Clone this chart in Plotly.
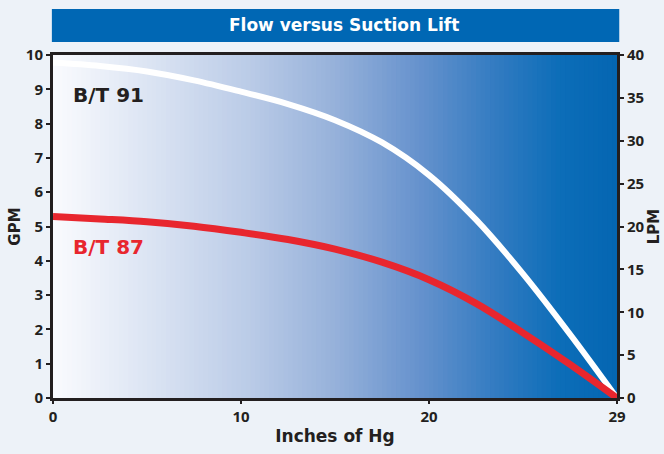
import plotly.graph_objects as go

# ---- data (x in axis units; last axis tick is labelled "29") ----
suction_x = [0, 2.5, 5, 7.5, 10, 12.5, 15, 17.5, 20, 22.5, 25, 27.5, 30]
bt91_gpm = [9.78, 9.68, 9.52, 9.26, 8.93, 8.57, 8.10, 7.45, 6.50, 5.20, 3.62, 1.86, 0.0]
bt87_gpm = [5.29, 5.22, 5.14, 5.01, 4.83, 4.62, 4.34, 3.96, 3.45, 2.76, 1.90, 0.98, 0.0]

x_tickvals = [0, 10, 20, 30]
x_ticktext = ["0", "10", "20", "29"]
gpm_ticks = list(range(0, 11))
lpm_ticks = list(range(0, 41, 5))

title_text = "Flow versus Suction Lift"
x_title = "Inches of Hg"
y_title = "GPM"
y2_title = "LPM"
label91 = "B/T 91"
label87 = "B/T 87"

FONT = "Open Sans"
HEAVY = "DejaVu Sans"
INK = "#231f20"
RED = "#e8262e"
BLUE = "#0067b4"

fig = go.Figure()

fig.add_trace(go.Scatter(x=suction_x, y=bt91_gpm, mode="lines",
                         line=dict(color="white", width=6, shape="spline", smoothing=1.0),
                         hoverinfo="skip", showlegend=False))
fig.add_trace(go.Scatter(x=suction_x, y=bt87_gpm, mode="lines",
                         line=dict(color=RED, width=7, shape="spline", smoothing=1.0),
                         hoverinfo="skip", showlegend=False))
# invisible trace to show the LPM axis
fig.add_trace(go.Scatter(x=[0, 30], y=[0, 40], yaxis="y2", mode="lines",
                         line=dict(width=0), opacity=0, hoverinfo="skip", showlegend=False))

# gradient plot background (white -> blue)
stops = [(0.0, (250, 251, 254)), (0.2, (214, 224, 241)), (0.35, (186, 203, 231)),
         (0.5, (150, 177, 218)), (0.65, (102, 146, 205)), (0.8, (45, 121, 192)),
         (0.9, (12, 109, 184)), (1.0, (4, 102, 178))]

def col(t):
    for (a, ca), (b, cb) in zip(stops[:-1], stops[1:]):
        if a <= t <= b:
            f = (t - a) / (b - a)
            return "rgb(%d,%d,%d)" % tuple(round(ca[i] + (cb[i] - ca[i]) * f) for i in range(3))
    return "rgb(%d,%d,%d)" % stops[-1][1]

N = 120
shapes = []
for i in range(N):
    shapes.append(dict(type="rect", xref="x domain", yref="y domain",
                       x0=i / N, x1=(i + 1) / N + 0.002, y0=0, y1=1,
                       fillcolor=col((i + 0.5) / N), line=dict(width=0), layer="below"))
# title banner (pixel rows ~9..42 above a plot top at 55)
shapes.append(dict(type="rect", xref="paper", yref="paper", x0=-0.002, x1=1.004,
                   y0=1 + 13 / 343, y1=1 + 46 / 343, fillcolor=BLUE, line=dict(width=0),
                   layer="below"))
fig.update_layout(shapes=shapes)

fig.add_annotation(text="<b>" + title_text + "</b>", xref="paper", yref="paper",
                   x=0.516, y=1 + 30 / 343, yanchor="middle", showarrow=False,
                   font=dict(family=HEAVY, size=17, color="white"))
fig.add_annotation(text="<b>" + label91 + "</b>", x=0.95, y=8.82, xanchor="left",
                   showarrow=False, font=dict(family=HEAVY, size=20, color=INK))
fig.add_annotation(text="<b>" + label87 + "</b>", x=0.95, y=4.39, xanchor="left",
                   showarrow=False, font=dict(family=HEAVY, size=20, color=RED))

tickfont = dict(family=FONT, size=15, color=INK, weight="bold")
fig.update_layout(
    width=664, height=454,
    margin=dict(l=53, r=47, t=55, b=56, autoexpand=False),
    paper_bgcolor="#edf2f8",
    plot_bgcolor="rgba(0,0,0,0)",
    xaxis=dict(range=[0, 30], tickvals=x_tickvals, ticktext=x_ticktext, automargin=False,
               showgrid=False, zeroline=False, showline=True, linecolor=INK, linewidth=3,
               mirror=True, ticks="outside", ticklen=3, tickcolor=INK, tickwidth=2,
               tickfont=tickfont,
               title=dict(text="<b>" + x_title + "</b>", standoff=6,
                          font=dict(family=HEAVY, size=17, color=INK))),
    yaxis=dict(range=[0, 10], tickvals=gpm_ticks, showgrid=False, zeroline=False,
               automargin=False,
               showline=True, linecolor=INK, linewidth=3, ticks="outside", ticklen=4,
               tickcolor=INK, tickwidth=2, tickfont=tickfont,
               title=dict(text="<b>" + y_title + "</b>", standoff=2,
                          font=dict(family=HEAVY, size=15, color=INK))),
    yaxis2=dict(range=[0, 40], tickvals=lpm_ticks, overlaying="y", side="right",
                automargin=False,
                showgrid=False, zeroline=False, showline=True, linecolor=INK, linewidth=3,
                ticks="outside", ticklen=4, tickcolor=INK, tickwidth=2, tickfont=tickfont,
                title=dict(text="<b>" + y2_title + "</b>", standoff=4,
                           font=dict(family=HEAVY, size=15, color=INK))),
)

fig.write_html("out.html", config={"displayModeBar": False},
               post_script="document.body.style.margin='0px';")
